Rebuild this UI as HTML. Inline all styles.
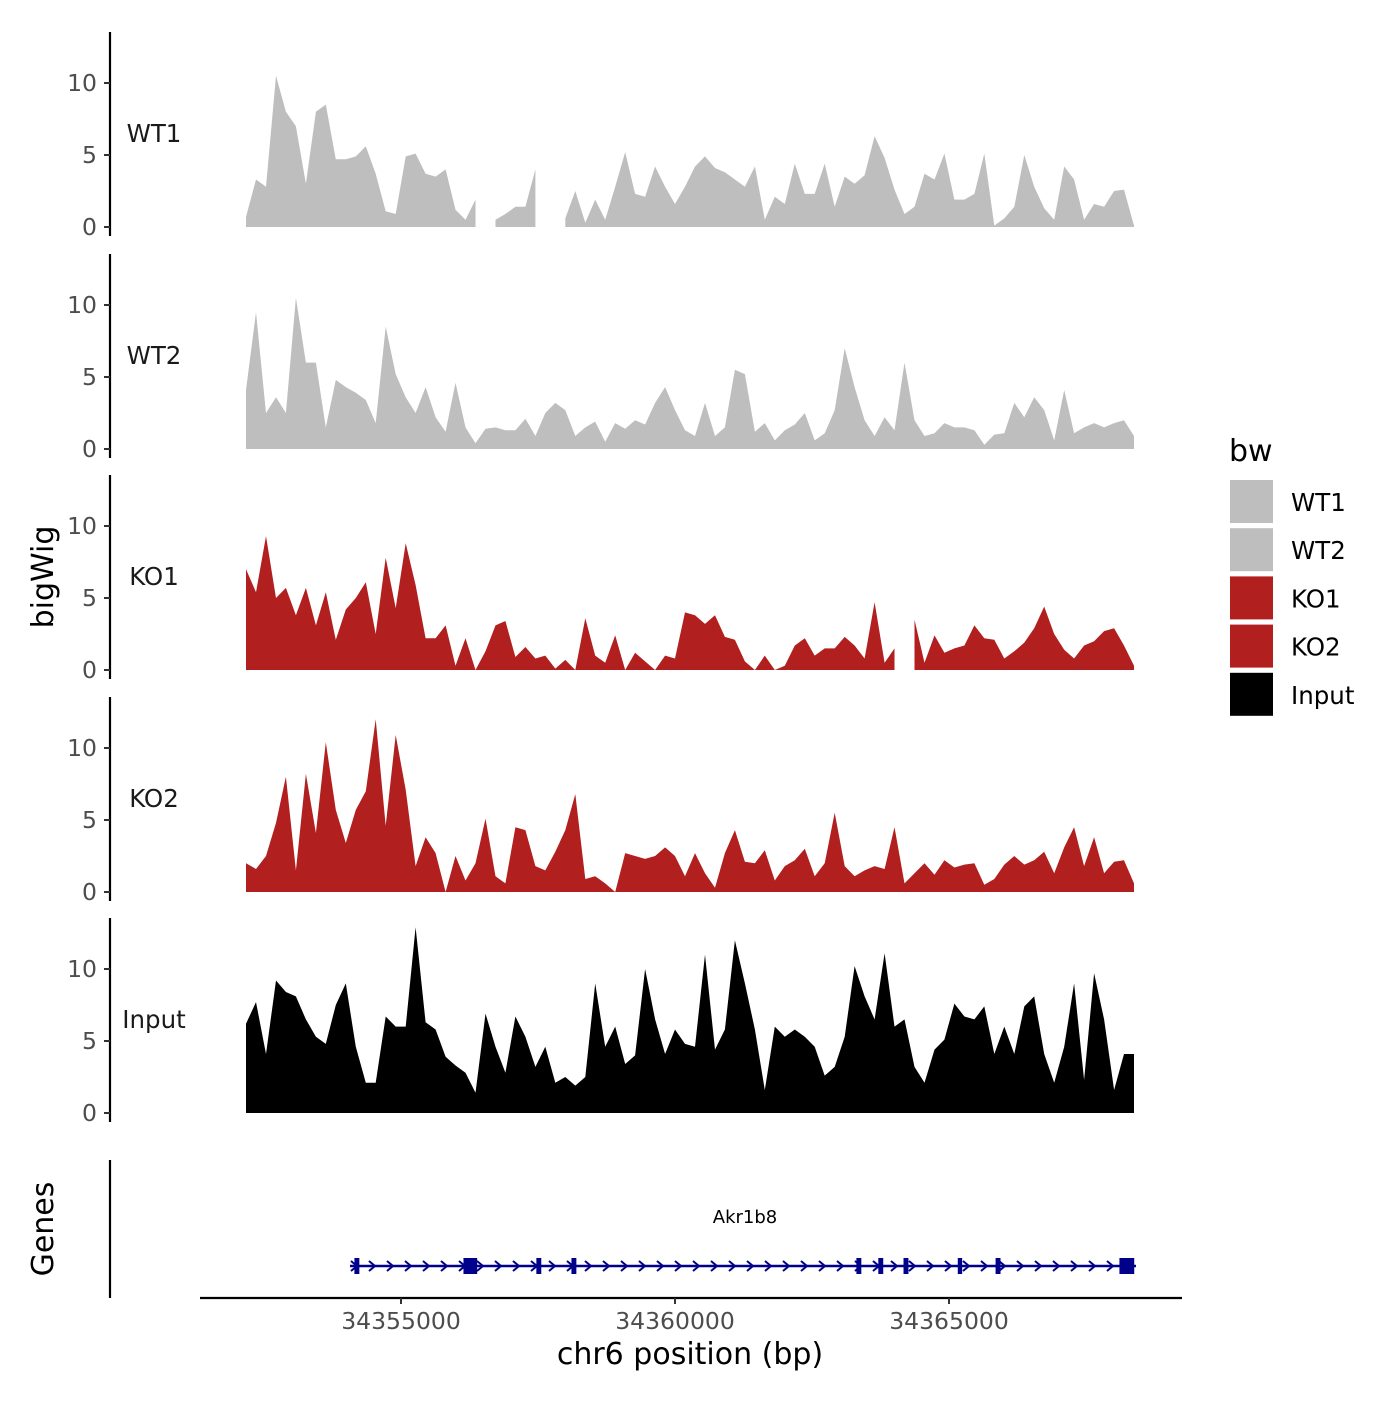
<!DOCTYPE html>
<html><head><meta charset="utf-8"><style>
body{margin:0;background:#fff}
svg text{font-family:"DejaVu Sans","Liberation Sans",sans-serif}
</style></head><body>
<svg id="chart" width="1400" height="1400" viewBox="0 0 1400 1400" xmlns="http://www.w3.org/2000/svg">
<rect width="1400" height="1400" fill="#fff"/>
<g id="tracks"></g>
<g id="genes"></g>
<g id="axes"></g>
<g id="legend"></g>
</svg>
<script>
const trackNames = ["WT1","WT2","KO1","KO2","Input"];
const trackColors = ["#bebebe","#bebebe","#b21f1f","#b21f1f","#000000"];
const startBp = 34352172, endBp = 34368376;
const yTicks = [0,5,10];
const xTicks = [34355000,34360000,34365000];
const xTickLabels = ["34355000","34360000","34365000"];
const wt1 = [0.7,3.3,2.8,10.5,8,7,3,8,8.5,4.7,4.7,4.9,5.6,3.7,1.1,0.9,4.9,5.1,3.7,3.5,4,1.2,0.5,1.9,null,0.5,0.9,1.4,1.4,4,null,null,0.6,2.5,0.3,1.9,0.5,2.8,5.2,2.3,2.1,4.2,2.8,1.6,2.8,4.2,4.9,4.1,3.8,3.3,2.8,4.2,0.5,2.1,1.6,4.4,2.3,2.3,4.4,1.4,3.5,3,3.6,6.3,4.8,2.6,0.9,1.4,3.7,3.3,5.1,1.9,1.9,2.3,5.1,0.1,0.6,1.4,5,2.8,1.3,0.5,4.2,3.3,0.5,1.6,1.4,2.5,2.6,0.1];
const wt2 = [4.1,9.5,2.5,3.6,2.5,10.5,6,6,1.5,4.8,4.3,3.9,3.4,1.8,8.5,5.2,3.6,2.5,4.3,2.2,1.2,4.6,1.5,0.4,1.4,1.5,1.3,1.3,2.1,0.9,2.5,3.2,2.7,0.9,1.5,1.9,0.5,1.8,1.4,2,1.7,3.2,4.3,2.7,1.3,0.9,3.2,0.9,1.5,5.5,5.2,1.2,1.8,0.6,1.3,1.7,2.5,0.6,1.1,2.7,7,4.3,2,0.9,2.2,1.3,6,2,0.9,1.1,1.8,1.5,1.5,1.3,0.3,1,1.1,3.2,2.2,3.6,2.7,0.6,4.1,1.1,1.5,1.8,1.5,1.8,2,0.9];
const ko1 = [7,5.4,9.3,5,5.7,3.8,5.7,3.1,5.4,2.1,4.2,5,6.1,2.5,7.8,4.3,8.8,5.9,2.2,2.2,3.1,0.3,2.2,0,1.3,3.1,3.4,0.9,1.6,0.8,1,0.1,0.7,0,3.6,1,0.5,2.4,0,1.2,0.6,0,1,0.8,4,3.8,3.2,3.8,2.3,2.1,0.6,0,1,0,0.3,1.7,2.2,1,1.5,1.5,2.3,1.7,0.8,4.7,0.5,1.5,null,3.5,0.5,2.4,1.2,1.5,1.7,3.1,2.2,2.1,0.8,1.3,1.9,2.9,4.4,2.5,1.4,0.8,1.7,2,2.7,2.9,1.7,0.3];
const ko2 = [2,1.6,2.5,4.8,8,1.5,8.2,4.1,10.4,5.7,3.4,5.7,7,12,4.6,10.9,7.1,1.8,3.8,2.7,0,2.5,0.8,2,5.1,1.1,0.6,4.5,4.3,1.8,1.5,2.8,4.3,6.8,0.9,1.1,0.6,0,2.7,2.5,2.3,2.5,3.1,2.5,1.1,2.7,1.3,0.3,2.7,4.3,2.1,2,2.9,0.8,1.8,2.2,3,1.1,2,5.5,1.8,1.1,1.5,1.8,1.6,4.5,0.6,1.3,2,1.2,2.2,1.7,1.9,2,0.5,0.9,1.9,2.5,1.9,2.2,2.8,1.3,3.1,4.5,1.8,3.8,1.3,2.1,2.2,0.6];
const input = [6.2,7.7,4.1,9.2,8.4,8.1,6.5,5.3,4.8,7.5,9,4.6,2.1,2.1,6.7,6,6,12.9,6.3,5.8,3.9,3.3,2.8,1.4,6.9,4.6,2.8,6.7,5.3,3.2,4.6,2.1,2.5,1.9,2.5,9,4.6,6,3.4,4,10,6.5,4.1,5.8,4.8,4.6,11,4.4,5.8,12,9,5.8,1.6,6,5.3,5.8,5.3,4.6,2.6,3.2,5.3,10.2,8.1,6.5,11.1,6,6.5,3.2,2.1,4.4,5.1,7.6,6.7,6.5,7.4,4.1,6,4.1,7.4,8.1,4.1,2.1,4.6,9,2.3,9.7,6.5,1.6,4.1,4.1];
const trackValues = [wt1,wt2,ko1,ko2,input];
const geneName = "Akr1b8";
const geneStart = 34354069, geneEnd = 34368412;
const exonStarts = [34354150,34356140,34357470,34358110,34363310,34363710,34364170,34365160,34365850,34368110];
const exonEnds =   [34354240,34356390,34357560,34358200,34363400,34363800,34364260,34365240,34365940,34368380];

const NS="http://www.w3.org/2000/svg";
function mk(tag,attrs,parent){const e=document.createElementNS(NS,tag);for(const k in attrs)e.setAttribute(k,attrs[k]);parent.appendChild(e);return e;}
const xPx = bp => 401 + (bp-34355000)*0.0548;
const zeroY = [227,449,670,892,1113];
const yPx = (t,v) => zeroY[t] - v*14.4;
const tracksG=document.getElementById('tracks'), axesG=document.getElementById('axes'), genesG=document.getElementById('genes'), legG=document.getElementById('legend');

trackValues.forEach((vals,t)=>{
  const n=vals.length, step=(endBp-startBp)/(n-1);
  let segs=[],cur=[];
  vals.forEach((v,i)=>{ if(v===null){if(cur.length)segs.push(cur);cur=[];} else cur.push([startBp+i*step,v]); });
  if(cur.length)segs.push(cur);
  segs.forEach((s,k)=>{
    let d=`M${xPx(s[0][0]).toFixed(1)},${zeroY[t]}`;
    s.forEach(p=>{d+=`L${xPx(p[0]).toFixed(1)},${yPx(t,p[1]).toFixed(1)}`;});
    d+=`L${xPx(s[s.length-1][0]).toFixed(1)},${zeroY[t]}Z`;
    const p=mk('path',{d:d,fill:trackColors[t]},tracksG);
    
    
  });
  const top=zeroY[t]-195, bot=zeroY[t]+9;
  const ax=mk('line',{x1:110,x2:110,y1:top,y2:bot,stroke:'#000','stroke-width':2.2},axesG);
  
  
  yTicks.forEach(v=>{
    const y=yPx(t,v);
    mk('line',{x1:104,x2:110,y1:y,y2:y,stroke:'#333','stroke-width':2},axesG);
    const tx=mk('text',{x:97,y:y+8,'text-anchor':'end','font-size':23.5,fill:'#4d4d4d'},axesG);
    tx.textContent=v;
    
    
  });
  const lab=mk('text',{x:154,y:zeroY[t]-85,'text-anchor':'middle','font-size':24.5,fill:'#1a1a1a'},axesG);
  lab.textContent=trackNames[t];
  
  
});

const gax=mk('line',{x1:110,x2:110,y1:1160,y2:1298,stroke:'#000','stroke-width':2.2},axesG);


const xax=mk('line',{x1:200,x2:1182,y1:1298,y2:1298,stroke:'#000','stroke-width':2.2},axesG);


xTicks.forEach((b,i)=>{
  const x=xPx(b);
  mk('line',{x1:x,x2:x,y1:1298,y2:1304,stroke:'#333','stroke-width':2},axesG);
  const tx=mk('text',{x:x,y:1329,'text-anchor':'middle','font-size':23.5,fill:'#4d4d4d'},axesG);
  tx.textContent=xTickLabels[i];
  
  
});
const xt=mk('text',{x:690,y:1364,'text-anchor':'middle','font-size':30,fill:'#000'},axesG);
xt.textContent='chr6 position (bp)';


const yt=mk('text',{x:0,y:0,'text-anchor':'middle','font-size':30,fill:'#000',transform:'translate(53,577) rotate(-90)'},axesG);
yt.textContent='bigWig';


const gt=mk('text',{x:0,y:0,'text-anchor':'middle','font-size':30,fill:'#000',transform:'translate(53,1229) rotate(-90)'},axesG);
gt.textContent='Genes';



const gy=1266, navy='#00008b';
const gl=mk('line',{x1:xPx(geneStart),x2:xPx(geneEnd),y1:gy,y2:gy,stroke:navy,'stroke-width':2.5},genesG);


for(let x=xPx(geneStart)+4;x<xPx(geneEnd)-6;x+=18){
  const c=mk('path',{d:`M${x-3},${gy-5}L${x+3},${gy}L${x-3},${gy+5}`,fill:'none',stroke:navy,'stroke-width':2},genesG);
  
  
}
exonStarts.forEach((s,i)=>{
  const x1=xPx(s), x2=xPx(exonEnds[i]);
  const r=mk('rect',{x:x1,y:gy-8,width:Math.max(x2-x1,3),height:16,fill:navy},genesG);
  
  
});
const gn=mk('text',{x:745,y:1223,'text-anchor':'middle','font-size':18,fill:'#000'},genesG);
gn.textContent=geneName;



const lt=mk('text',{x:1229,y:461,'font-size':30,fill:'#000'},legG);
lt.textContent='bw';


trackNames.forEach((nm,i)=>{
  const y=480+i*48.2;
  const r=mk('rect',{x:1230,y:y,width:43,height:43,fill:trackColors[i]},legG);
  
  
  const tx=mk('text',{x:1291,y:y+31,'font-size':24.5,fill:'#000'},legG);
  tx.textContent=nm;
  
  
});
</script>
</body></html>
